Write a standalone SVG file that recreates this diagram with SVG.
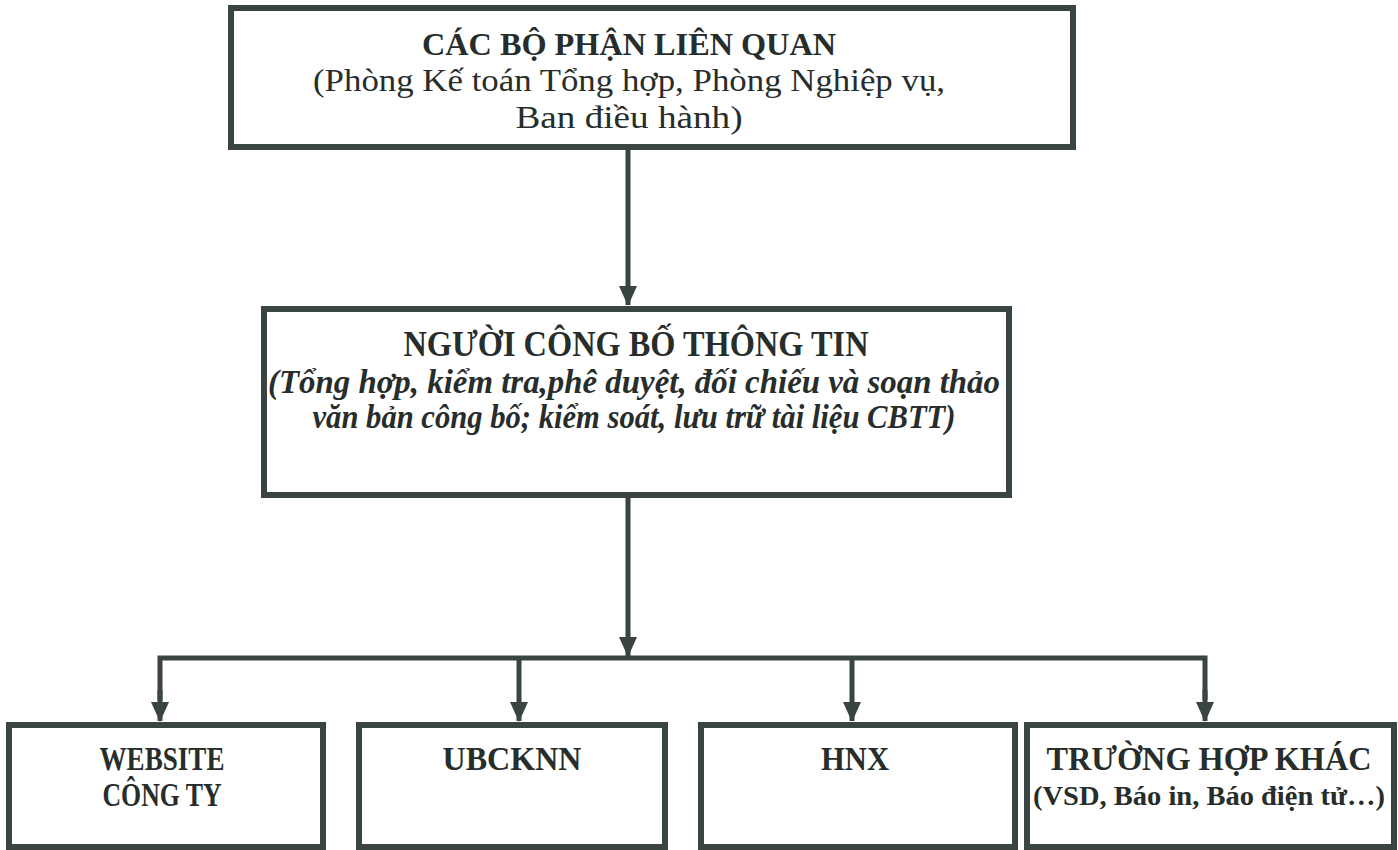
<svg xmlns="http://www.w3.org/2000/svg" width="1398" height="850" viewBox="0 0 1398 850">
<defs>
<style>
.box{fill:#ffffff;stroke:#3a4442;stroke-width:6}
.con{fill:none;stroke:#3a4442;stroke-width:5}
.t{font-family:"Liberation Serif","Times New Roman",serif;fill:#272d2b;text-anchor:middle}
.b{font-weight:bold}
.i{font-style:italic}
</style>
<marker id="ah" viewBox="0 0 20 18" refX="19" refY="9" markerWidth="20" markerHeight="18" markerUnits="userSpaceOnUse" orient="auto">
<path d="M0,0 L20,9 L0,18 Z" fill="#3a4442"/>
</marker>
</defs>
<rect width="1398" height="850" fill="#ffffff"/>
<g id="connectors">
<line class="con" x1="628" y1="148" x2="628" y2="305" marker-end="url(#ah)"/>
<line class="con" x1="628" y1="496" x2="628" y2="656" marker-end="url(#ah)"/>
<polyline class="con" points="160,700 160,658 1205,658 1205,700"/>
<line class="con" x1="160" y1="690" x2="160" y2="721" marker-end="url(#ah)"/>
<line class="con" x1="1205" y1="690" x2="1205" y2="721" marker-end="url(#ah)"/>
<line class="con" x1="519" y1="658" x2="519" y2="721" marker-end="url(#ah)"/>
<line class="con" x1="852" y1="658" x2="852" y2="721" marker-end="url(#ah)"/>
</g>
<g id="node-bophan">
<rect class="box" x="231" y="8" width="842" height="139"/>
<text class="t b" x="629" y="55" font-size="32" textLength="414" lengthAdjust="spacingAndGlyphs">CÁC BỘ PHẬN LIÊN QUAN</text>
<text class="t" x="629" y="91" font-size="32" textLength="632" lengthAdjust="spacingAndGlyphs">(Phòng Kế toán Tổng hợp, Phòng Nghiệp vụ,</text>
<text class="t" x="629" y="128" font-size="32" textLength="227" lengthAdjust="spacingAndGlyphs">Ban điều hành)</text>
</g>
<g id="node-nguoicbtt">
<rect class="box" x="264" y="309" width="745" height="186"/>
<text class="t b" x="636" y="356" font-size="36" textLength="465" lengthAdjust="spacingAndGlyphs">NGƯỜI CÔNG BỐ THÔNG TIN</text>
<text class="t b i" x="634" y="393" font-size="33" textLength="732" lengthAdjust="spacingAndGlyphs">(Tổng hợp, kiểm tra,phê duyệt, đối chiếu và soạn thảo</text>
<text class="t b i" x="634" y="428" font-size="33" textLength="643" lengthAdjust="spacingAndGlyphs">văn bản công bố; kiểm soát, lưu trữ tài liệu CBTT)</text>
</g>
<g id="node-website">
<rect class="box" x="9" y="725" width="314" height="122"/>
<text class="t b" x="162" y="770" font-size="34" textLength="125" lengthAdjust="spacingAndGlyphs">WEBSITE</text>
<text class="t b" x="162" y="806" font-size="34" textLength="119" lengthAdjust="spacingAndGlyphs">CÔNG TY</text>
</g>
<g id="node-ubcknn">
<rect class="box" x="359" y="725" width="306" height="122"/>
<text class="t b" x="512" y="770" font-size="34" textLength="139" lengthAdjust="spacingAndGlyphs">UBCKNN</text>
</g>
<g id="node-hnx">
<rect class="box" x="701" y="725" width="314" height="122"/>
<text class="t b" x="855" y="770" font-size="34" textLength="68" lengthAdjust="spacingAndGlyphs">HNX</text>
</g>
<g id="node-khac">
<rect class="box" x="1027" y="725" width="367" height="122"/>
<text class="t b" x="1209" y="770" font-size="34" textLength="325" lengthAdjust="spacingAndGlyphs">TRƯỜNG HỢP KHÁC</text>
<text class="t b" x="1209" y="805" font-size="27" textLength="352" lengthAdjust="spacingAndGlyphs">(VSD, Báo in, Báo điện tử…)</text>
</g>
</svg>
